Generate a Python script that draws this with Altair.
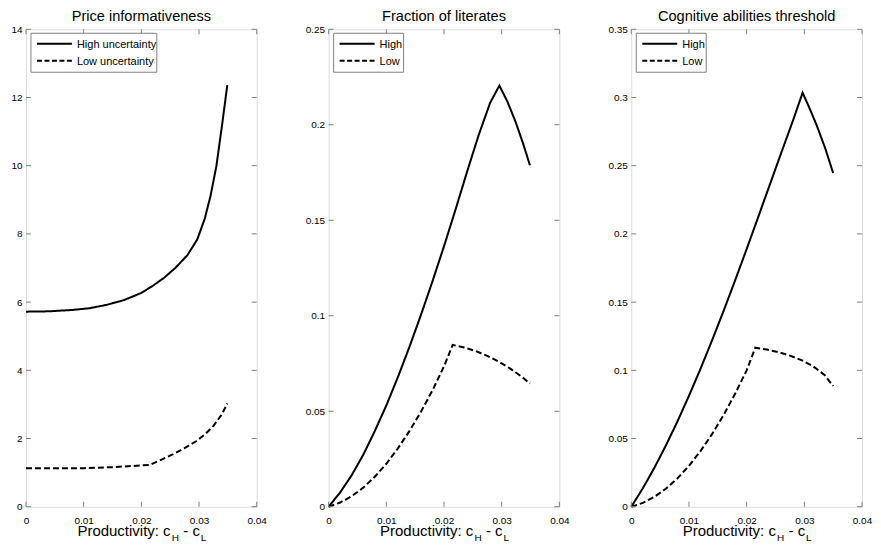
import altair as alt
import pandas as pd

FONT = "Liberation Sans"
GRAY = "#808080"

# ---------------- data ----------------
x_ticks = [0, 0.01, 0.02, 0.03, 0.04]

titles = ["Price informativeness", "Fraction of literates", "Cognitive abilities threshold"]
legend_high = ["High uncertainty", "High", "High"]
legend_low = ["Low uncertainty", "Low", "Low"]

p1_yticks = [0, 2, 4, 6, 8, 10, 12, 14]
p2_yticks = [0, 0.05, 0.1, 0.15, 0.2, 0.25]
p3_yticks = [0, 0.05, 0.1, 0.15, 0.2, 0.25, 0.3, 0.35]

# Price informativeness
p1_high_x = [0, 0.004, 0.008, 0.011, 0.014, 0.017, 0.020, 0.022, 0.024, 0.026, 0.028, 0.0297, 0.031, 0.032, 0.033, 0.034, 0.0349]
p1_high_y = [5.72, 5.73, 5.77, 5.82, 5.92, 6.06, 6.27, 6.48, 6.72, 7.02, 7.38, 7.84, 8.45, 9.12, 9.98, 11.2, 12.36]
p1_low_x = [0, 0.005, 0.010, 0.015, 0.020, 0.0215, 0.0235, 0.0255, 0.0275, 0.0295, 0.031, 0.0325, 0.034, 0.0349]
p1_low_y = [1.13, 1.13, 1.13, 1.16, 1.21, 1.23, 1.38, 1.54, 1.72, 1.92, 2.12, 2.37, 2.72, 3.03]

# Fraction of literates
p2_high_x = [0, 0.002, 0.004, 0.006, 0.008, 0.010, 0.012, 0.014, 0.016, 0.018, 0.020, 0.022, 0.024, 0.026, 0.028, 0.0296, 0.031, 0.0324, 0.0337, 0.0349]
p2_high_y = [0, 0.0075, 0.0165, 0.0272, 0.0396, 0.053, 0.0678, 0.0836, 0.1004, 0.118, 0.1364, 0.1556, 0.1754, 0.1945, 0.2115, 0.2205, 0.2121, 0.2016, 0.1903, 0.1788]
p2_low_x = [0, 0.002, 0.004, 0.006, 0.008, 0.010, 0.012, 0.014, 0.016, 0.018, 0.020, 0.0215, 0.0235, 0.0255, 0.0275, 0.0295, 0.0315, 0.0335, 0.0349]
p2_low_y = [0, 0.0022, 0.0055, 0.0100, 0.0157, 0.0225, 0.0305, 0.0396, 0.0497, 0.0609, 0.0735, 0.0847, 0.0834, 0.0815, 0.0790, 0.0760, 0.0723, 0.0680, 0.0645]

# Cognitive abilities threshold
p3_high_x = [0, 0.002, 0.004, 0.006, 0.008, 0.010, 0.012, 0.014, 0.016, 0.018, 0.020, 0.022, 0.024, 0.026, 0.028, 0.0297, 0.031, 0.0322, 0.0337, 0.0350]
p3_high_y = [0, 0.0135, 0.0285, 0.0449, 0.0625, 0.0813, 0.1011, 0.1219, 0.1435, 0.1659, 0.1889, 0.2123, 0.2359, 0.2595, 0.2827, 0.3035, 0.2912, 0.279, 0.2618, 0.2446]
p3_low_x = [0, 0.002, 0.004, 0.006, 0.008, 0.010, 0.012, 0.014, 0.016, 0.018, 0.020, 0.0215, 0.0235, 0.0255, 0.0275, 0.0295, 0.0315, 0.0335, 0.0350]
p3_low_y = [0, 0.0028, 0.0072, 0.0132, 0.0208, 0.030, 0.0408, 0.0532, 0.0672, 0.0828, 0.100, 0.1166, 0.1152, 0.1133, 0.1108, 0.1075, 0.1030, 0.0966, 0.0885]

W, H = 231, 478


def panel(title, hx, hy, lx, ly, yticks, lab_hi, lab_lo, box_w):
    ymax = yticks[-1]
    df = pd.DataFrame({
        "x": hx + lx,
        "y": hy + ly,
        "s": ["High"] * len(hx) + ["Low"] * len(lx),
    })
    xs = alt.Scale(domain=[0, 0.04], nice=False, zero=False)
    ys = alt.Scale(domain=[0, ymax], nice=False, zero=False)
    lab = dict(labelFont=FONT, labelFontSize=10, labelColor="black", ticks=False,
               domain=False, grid=False, title=None, format="~g", labelFlush=False,
               labelOverlap=False)
    lines = alt.Chart(df).mark_line(color="black", strokeWidth=2).encode(
        x=alt.X("x:Q", scale=xs, axis=alt.Axis(values=x_ticks, labelPadding=9, **lab)),
        y=alt.Y("y:Q", scale=ys, axis=alt.Axis(values=yticks, labelPadding=4, **lab)),
        strokeDash=alt.StrokeDash("s:N", scale=alt.Scale(domain=["High", "Low"], range=[[1, 0], [6, 3]]), legend=None),
    )
    xt = pd.DataFrame({"x": x_ticks})
    yt = pd.DataFrame({"y": yticks})
    tb = alt.Chart(xt).mark_rule(color=GRAY, strokeWidth=1).encode(
        x=alt.X("x:Q", scale=xs), y=alt.value(H), y2=alt.value(H - 5))
    tt = alt.Chart(xt).mark_rule(color=GRAY, strokeWidth=1).encode(
        x=alt.X("x:Q", scale=xs), y=alt.value(0), y2=alt.value(5))
    tl = alt.Chart(yt).mark_rule(color=GRAY, strokeWidth=1).encode(
        y=alt.Y("y:Q", scale=ys), x=alt.value(0), x2=alt.value(5))
    tr = alt.Chart(yt).mark_rule(color=GRAY, strokeWidth=1).encode(
        y=alt.Y("y:Q", scale=ys), x=alt.value(W - 5), x2=alt.value(W))

    one = pd.DataFrame({"a": [0]})
    box = alt.Chart(one).mark_rect(fill="white", stroke=GRAY, strokeWidth=1).encode(
        x=alt.value(5), x2=alt.value(5 + box_w), y=alt.value(4), y2=alt.value(43))
    l_hi = alt.Chart(one).mark_rule(color="black", strokeWidth=2).encode(
        x=alt.value(11), x2=alt.value(46), y=alt.value(14.5))
    l_lo = alt.Chart(one).mark_rule(color="black", strokeWidth=2, strokeDash=[5, 2.5]).encode(
        x=alt.value(11), x2=alt.value(46), y=alt.value(31.5))

    def txt(s, x, y, fs, align="left"):
        return alt.Chart(one).mark_text(text=s, align=align, baseline="alphabetic", font=FONT,
                                        fontSize=fs, color="black").encode(x=alt.value(x), y=alt.value(y))

    t_hi = txt(lab_hi, 51, 19, 11)
    t_lo = txt(lab_lo, 51, 36, 11)
    ttl = txt(title, W / 2, -8.5, 14.6, align="center")

    # x-axis title with subscripts
    x0 = W / 2 - 64
    xl = [
        txt("Productivity: c", x0, H + 29, 15),
        txt("H", x0 + 94.5, H + 34, 10),
        txt("- c", x0 + 106.0, H + 29, 15),
        txt("L", x0 + 123.5, H + 34, 10),
    ]

    return alt.layer(lines, tb, tt, tl, tr, box, l_hi, l_lo, t_hi, t_lo, ttl, *xl).properties(
        width=W, height=H)


c1 = panel(titles[0], p1_high_x, p1_high_y, p1_low_x, p1_low_y, p1_yticks, legend_high[0], legend_low[0], 126)
c2 = panel(titles[1], p2_high_x, p2_high_y, p2_low_x, p2_low_y, p2_yticks, legend_high[1], legend_low[1], 70)
c3 = panel(titles[2], p3_high_x, p3_high_y, p3_low_x, p3_low_y, p3_yticks, legend_high[2], legend_low[2], 70)

chart = alt.hconcat(c1, c2, c3, spacing=72, bounds="flush").properties(
    padding={"left": 2, "top": 0, "right": 0, "bottom": 0}
).configure_view(stroke=GRAY, strokeWidth=1).configure(background="white")

chart.save("out.html", embed_options={"renderer": "svg", "actions": False})
